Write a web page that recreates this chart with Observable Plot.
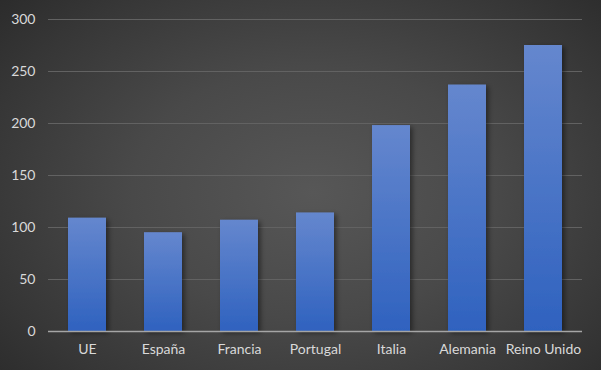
<!DOCTYPE html>
<html>
<head>
<meta charset="utf-8">
<script src="https://cdn.jsdelivr.net/npm/d3@7"></script>
<script src="https://cdn.jsdelivr.net/npm/@observablehq/plot@0.6"></script>
<style>
  html, body { margin: 0; padding: 0; background: #2a2a2a; }
  #chart svg { display: block; }
</style>
</head>
<body>
<div id="chart"></div>
<script>
const categories = ["UE", "España", "Francia", "Portugal", "Italia", "Alemania", "Reino Unido"];
const values = [109, 95, 107, 114, 198, 237, 275];
const yTicks = [0, 50, 100, 150, 200, 250, 300];

const data = categories.map((c, i) => ({category: c, value: values[i]}));

const chart = Plot.plot({
  width: 601,
  height: 370,
  marginTop: 19,
  marginBottom: 39,
  marginLeft: 48,
  marginRight: 19,
  style: {
    background: "radial-gradient(ellipse 75% 85% at 52% 52%, #575757 0%, #494949 40%, #363636 75%, #272727 100%)",
    fontFamily: "Lato, 'Open Sans', sans-serif",
    fontSize: "14px",
    color: "#d9d9d9"
  },
  x: {domain: categories, paddingInner: 0.5, paddingOuter: 0.25, label: null, tickSize: 0, tickPadding: 14},
  y: {domain: [0, 300], ticks: yTicks, label: null, tickSize: 0, tickPadding: 14, grid: false},
  marks: [
    Plot.gridY(yTicks.filter(d => d > 0), {stroke: "#626262", strokeOpacity: 1, strokeWidth: 1}),
    Plot.barY(data, {x: "category", y: "value", fill: "url(#barGrad)"}),
    Plot.ruleY([0], {stroke: "#a5a5a5", strokeWidth: 1.6}),
    Plot.axisX({tickSize: 0, tickPadding: 13, fill: "#d9d9d9"}),
    Plot.axisY({ticks: yTicks, tickSize: 0, tickPadding: 13, fill: "#d9d9d9"})
  ]
});

const svg = d3.select(chart);
const defs = svg.insert("defs", ":first-child");
const grad = defs.append("linearGradient")
  .attr("id", "barGrad")
  .attr("gradientUnits", "objectBoundingBox")
  .attr("x1", 0).attr("y1", 0).attr("x2", 0).attr("y2", 1);
grad.append("stop").attr("offset", "0%").attr("stop-color", "#6587ce");
grad.append("stop").attr("offset", "100%").attr("stop-color", "#2f62bf");
const f = defs.append("filter").attr("id", "barShadow")
  .attr("x", "-20%").attr("y", "-10%").attr("width", "160%").attr("height", "130%");
f.append("feDropShadow").attr("dx", 2.5).attr("dy", 2).attr("stdDeviation", 2.5)
  .attr("flood-color", "#000").attr("flood-opacity", 0.45);
svg.selectAll("g[aria-label='bar'] rect").attr("filter", "url(#barShadow)");

document.getElementById("chart").appendChild(chart);
</script>
</body>
</html>
